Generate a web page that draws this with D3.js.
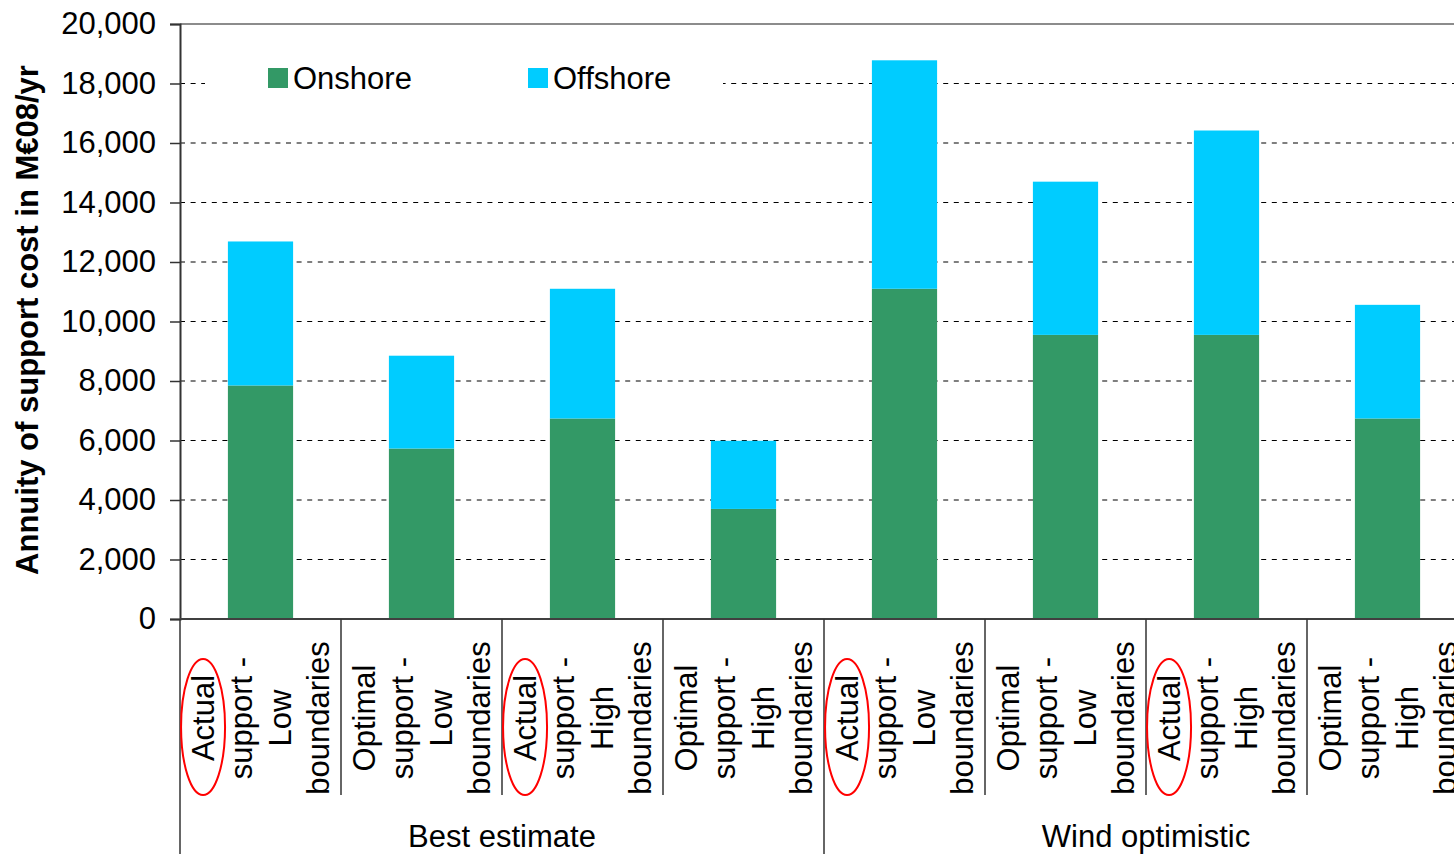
<!DOCTYPE html>
<html lang="en">
<head>
<meta charset="UTF-8">
<title>Annuity of support cost</title>
<script src="https://d3js.org/d3.v7.min.js"></script>
<style>
  body { margin: 0; background: #fff; }
  svg { display: block; font-family: Arial, "Liberation Sans", sans-serif; }
</style>
</head>
<body>
<script>
// DATA
const groups = ["Best estimate", "Wind optimistic"];
const categories = [
  ["Actual", "support -", "Low", "boundaries"],
  ["Optimal", "support -", "Low", "boundaries"],
  ["Actual", "support -", "High", "boundaries"],
  ["Optimal", "support -", "High", "boundaries"],
  ["Actual", "support -", "Low", "boundaries"],
  ["Optimal", "support -", "Low", "boundaries"],
  ["Actual", "support -", "High", "boundaries"],
  ["Optimal", "support -", "High", "boundaries"]
];
const circled = [true, false, true, false, true, false, true, false];
const onshore  = [7850, 5730, 6740, 3700, 11100, 9550, 9550, 6740];
const offshore = [4840, 3120, 4360, 2290, 7680, 5150, 6870, 3820];
const yTicks = [0, 2000, 4000, 6000, 8000, 10000, 12000, 14000, 16000, 18000, 20000];
const seriesNames = ["Onshore", "Offshore"];
const colors = ["#339966", "#00ccff"];

const W = 1454, H = 854;
const plotLeft = 180, plotTop = 24, plotBottom = 619;
const bandW = 161;

const svg = d3.select("body").append("svg").attr("width", W).attr("height", H);

const ids = categories.map((c, i) => i);
const x = d3.scaleBand().domain(ids).range([plotLeft, plotLeft + bandW * ids.length]);
const y = d3.scaleLinear().domain([0, 20000]).range([plotBottom, plotTop]);
const barW = x.bandwidth() * 0.405;

// gridlines
svg.append("g").selectAll("line")
  .data(yTicks.filter(d => d > 0 && d < 20000))
  .join("line")
  .attr("x1", plotLeft).attr("x2", W)
  .attr("y1", d => y(d)).attr("y2", d => y(d))
  .attr("stroke", "#000").attr("stroke-width", 1.2)
  .attr("stroke-dasharray", "5,5.6");

// top border
svg.append("line")
  .attr("x1", plotLeft).attr("x2", W).attr("y1", y(20000)).attr("y2", y(20000))
  .attr("stroke", "#8c8c8c").attr("stroke-width", 2);

// legend background
svg.append("rect").attr("x", 205).attr("y", 58).attr("width", 518).attr("height", 42).attr("fill", "#fff");

// stacked bars
const rows = ids.map(i => ({ i: i, Onshore: onshore[i], Offshore: offshore[i] }));
const stack = d3.stack().keys(seriesNames)(rows);
svg.append("g").selectAll("g")
  .data(stack)
  .join("g")
  .attr("fill", (d, k) => colors[k])
  .selectAll("rect")
  .data(d => d)
  .join("rect")
  .attr("x", d => x(d.data.i) + (x.bandwidth() - barW) / 2)
  .attr("width", barW)
  .attr("y", d => y(d[1]))
  .attr("height", d => y(d[0]) - y(d[1]));

// y axis
const yAxis = d3.axisLeft(y).tickValues(yTicks).tickFormat(d3.format(",")).tickSize(10).tickPadding(14);
const gy = svg.append("g").attr("transform", `translate(${plotLeft},0)`).call(yAxis);
gy.select(".domain").attr("stroke", "#333").attr("stroke-width", 2);
gy.selectAll(".tick line").attr("stroke", "#333").attr("stroke-width", 1.5);
gy.selectAll(".tick text").attr("font-size", 31).attr("fill", "#000")
  .attr("font-family", "Arial, 'Liberation Sans', sans-serif");

// x axis baseline
svg.append("line").attr("x1", plotLeft).attr("x2", W).attr("y1", plotBottom).attr("y2", plotBottom)
  .attr("stroke", "#404040").attr("stroke-width", 2);

// category separators
svg.append("g").selectAll("line")
  .data(ids.concat([ids.length]))
  .join("line")
  .attr("x1", d => plotLeft + d * x.step()).attr("x2", d => plotLeft + d * x.step())
  .attr("y1", plotBottom).attr("y2", d => d % 4 === 0 ? H : 795)
  .attr("stroke", "#333").attr("stroke-width", 1.5);

// category labels (rotated, multi-line)
const lineGap = 38.3;
const labels = svg.append("g").selectAll("text")
  .data(ids)
  .join("text")
  .attr("transform", d => `translate(${x(d) + x.bandwidth() / 2},718) rotate(-90)`)
  .attr("text-anchor", "middle")
  .attr("font-size", 31)
  .attr("fill", "#000");
labels.selectAll("tspan")
  .data(d => categories[d].map((t, k) => ({ t: t, k: k, n: categories[d].length })))
  .join("tspan")
  .attr("x", 0)
  .attr("y", d => (d.k - (d.n - 1) / 2) * lineGap)
  .attr("dy", "0.35em")
  .text(d => d.t);

// red ellipses around highlighted labels
svg.append("g").selectAll("ellipse")
  .data(ids.filter(i => circled[i]))
  .join("ellipse")
  .attr("cx", d => x(d) + x.bandwidth() / 2 - 1.5 * lineGap)
  .attr("cy", 727)
  .attr("rx", 22).attr("ry", 68)
  .attr("fill", "none").attr("stroke", "#ff0000").attr("stroke-width", 2);

// group labels
svg.append("g").selectAll("text")
  .data(groups)
  .join("text")
  .attr("x", (d, g) => plotLeft + (g * 4 + 2) * x.step())
  .attr("y", 847)
  .attr("text-anchor", "middle")
  .attr("font-size", 31)
  .attr("fill", "#000")
  .text(d => d);

// y axis title
svg.append("text")
  .attr("transform", "translate(38,320) rotate(-90)")
  .attr("text-anchor", "middle")
  .attr("font-size", 31)
  .attr("font-weight", "bold")
  .attr("fill", "#000")
  .text("Annuity of support cost in M€08/yr");

// legend
const legendX = [268, 528];
const lg = svg.append("g").selectAll("g")
  .data(seriesNames)
  .join("g")
  .attr("transform", (d, k) => `translate(${legendX[k]},68)`);
lg.append("rect").attr("width", 20).attr("height", 20).attr("fill", (d, k) => colors[k]);
lg.append("text").attr("x", 25).attr("y", 10).attr("dy", "0.35em")
  .attr("font-size", 31).attr("fill", "#000").text(d => d);
</script>
</body>
</html>
